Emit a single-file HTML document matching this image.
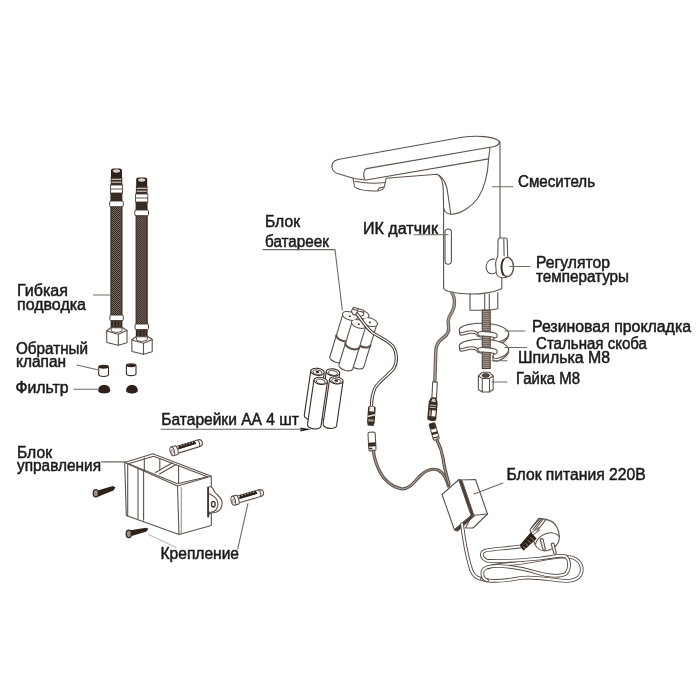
<!DOCTYPE html>
<html><head><meta charset="utf-8">
<style>
html,body{margin:0;padding:0;background:#fff;width:700px;height:700px;overflow:hidden}
svg{display:block}
text{font-family:"Liberation Sans",sans-serif;font-size:16px;fill:#1a1a1a;stroke:#1a1a1a;stroke-width:0.5}
.l{fill:none;stroke:#72685f;stroke-width:1.1;stroke-linecap:round;stroke-linejoin:round}
.k{fill:none;stroke:#5e524a;stroke-width:1.1;stroke-linecap:round;stroke-linejoin:round}
.w{fill:#fff;stroke:#5e524a;stroke-width:1.1;stroke-linejoin:round}
.d{fill:#2e2119}
</style></head>
<body>
<svg width="700" height="700" viewBox="0 0 700 700">
<defs>
<pattern id="thr" width="8" height="2" patternUnits="userSpaceOnUse">
<rect width="8" height="2" fill="#9a9089"/><rect width="8" height="0.8" fill="#6a5d54"/>
</pattern>
<pattern id="brd" width="2" height="2" patternUnits="userSpaceOnUse">
<rect width="2" height="2" fill="#74685f"/><rect width="1" height="1" fill="#3a2d25"/><rect x="1" y="1" width="1" height="1" fill="#3a2d25"/>
</pattern>
<g id="aa">
<path d="M-6.8 0V45A6.8 3.5 0 0 0 6.8 45V0" fill="#fff" stroke="#3b2e26" stroke-width="1.1"/>
<ellipse cx="0" cy="0" rx="6.8" ry="3.5" fill="#fff" stroke="#3b2e26" stroke-width="1.1"/>
<ellipse cx="0" cy="0.6" rx="4.6" ry="2.3" fill="#fff" stroke="#3b2e26" stroke-width="0.8"/>
</g>
</defs>
<!-- TEXT -->
<g id="txt" style="filter:grayscale(1)">
<text x="17" y="296.3" textLength="51" lengthAdjust="spacingAndGlyphs">Гибкая</text>
<text x="17" y="309.7" textLength="69" lengthAdjust="spacingAndGlyphs">подводка</text>
<text x="16" y="354.3" textLength="72" lengthAdjust="spacingAndGlyphs">Обратный</text>
<text x="16" y="366.7" textLength="50" lengthAdjust="spacingAndGlyphs">клапан</text>
<text x="15.5" y="392.7" textLength="53" lengthAdjust="spacingAndGlyphs">Фильтр</text>
<text x="518" y="187.0" textLength="77" lengthAdjust="spacingAndGlyphs">Смеситель</text>
<text x="363" y="233.8" textLength="75" lengthAdjust="spacingAndGlyphs">ИК датчик</text>
<text x="536" y="267.5" textLength="74" lengthAdjust="spacingAndGlyphs">Регулятор</text>
<text x="536" y="282.0" textLength="93" lengthAdjust="spacingAndGlyphs">температуры</text>
<text x="532" y="332.1" textLength="159" lengthAdjust="spacingAndGlyphs">Резиновая прокладка</text>
<text x="536" y="348.7" textLength="111" lengthAdjust="spacingAndGlyphs">Стальная скоба</text>
<text x="518" y="363.1" textLength="92" lengthAdjust="spacingAndGlyphs">Шпилька М8</text>
<text x="516" y="383.7" textLength="64" lengthAdjust="spacingAndGlyphs">Гайка М8</text>
<text x="265" y="227.2" textLength="35" lengthAdjust="spacingAndGlyphs">Блок</text>
<text x="265" y="247.3" textLength="64" lengthAdjust="spacingAndGlyphs">батареек</text>
<text x="161.3" y="425.0" textLength="137.5" lengthAdjust="spacingAndGlyphs">Батарейки АА 4 шт</text>
<text x="17" y="457.8" textLength="35" lengthAdjust="spacingAndGlyphs">Блок</text>
<text x="17" y="471.3" textLength="84" lengthAdjust="spacingAndGlyphs">управления</text>
<text x="160.5" y="559.0" textLength="78.5" lengthAdjust="spacingAndGlyphs">Крепление</text>
<text x="506.5" y="480.3" textLength="139.2" lengthAdjust="spacingAndGlyphs">Блок питания 220В</text>
</g>
<path d="M300.5 427.6L311 429.3L300.5 431.4Z" fill="#1a1a1a"/>
<!-- FAUCET -->
<g class="k">
<!-- top plate -->
<path d="M338 159.5L462 137.2C478 135 494 136.5 499.5 141.5C500 144.5 495 147 490 147.2L366.4 168.6C363.6 170 363 175 364.5 178.8"/>
<path d="M338 159.5C333 161 331.5 164 332 167.5C332.5 171 336 173.5 340 174.3L354 178.5L365.5 180"/>
<!-- front face bottom -->
<path d="M366 180L488.6 158.9"/>
<!-- underside -->
<path d="M386 178.3L437 174.3C441 176 443 182 443.3 190L443.6 210"/>
<path d="M438.6 175C444 178 447 185 448 195L450.7 213.5"/>
<path d="M443.6 208C444.5 212 447 214 450.7 214.3C462 214 472 206 478 198C485 187 488 172 488.6 159L490 147.2"/>
<!-- body -->
<path d="M500 142V238"/>
<path d="M443.6 208V288"/>
<path d="M501.8 277V288.5C495 292.5 480 294.3 469 294C458 293.5 449 292 446 290.5C444.5 289.8 443.6 289 443.6 287.5"/>
<!-- aerator -->
<path d="M353 178L354.5 186.5C357 190 366 191 378 191C382 190.5 384 189 384.5 186L386 179"/>
<path d="M355 181.2C365 183.5 378 183.5 385 182.5"/>
<path d="M378 190.5L379 188L383.5 187"/>
</g>
<!-- IR window -->
<rect x="445" y="229" width="6.4" height="35.2" rx="3.2" class="k"/>
<!-- lever + knob -->
<g class="k">
<path class="w" d="M494.8 259.3C491 258.5 487 261 486.2 265.5C485.5 270.5 488.5 274 492 273.8C494 273.7 495.5 273 496.3 272"/>
<path class="w" d="M498.1 239.5Q498.2 238 499.6 238H505.6Q507.1 238 507.2 239.6L507.7 256.5C509 258 511 260 512 262L510 275C507 277.5 504 278 502 277.7C499 277.3 496.8 275.5 496.3 273L495.6 263.5C495.5 260.5 497.6 258 497.8 255.5Z"/>
<path d="M503.8 238.8L504.1 255.6"/>
<ellipse cx="507.4" cy="267" rx="6.1" ry="9.6" class="w" style="stroke-width:1.4"/>
<path d="M503.5 259.5C501 262.5 500.8 271 503.2 274.8" style="stroke-width:1.8;stroke:#3b2e26"/>
</g>
<!-- washers -->
<g id="wsh">
<path class="w" d="M459.5 329C462 324.5 474 323 484 323.3C497 323.7 507 327.5 508.6 333C509 337.5 505 340.5 497 342.5L494.5 342.3C492.5 341.3 492.5 339.5 494.5 338C496 336.5 495 334.8 490.5 334.8H482C479 334.8 477.3 333.5 476.5 332C474 330.5 468 330.6 462 332.8C459.5 332.8 459 331 459.5 329Z"/>
<path class="k" d="M459.5 331V333.5C460 335.5 462 335.5 464 334.8C469 333 474 333 476.5 334.5L478 336.5L482 337.3"/>
<path class="k" d="M508.6 333V336C507 341 502 343.5 497 345.2L494.5 345"/>
<path class="k" d="M492.8 340V342.5C493 344 494 345 494.5 345"/>
</g>
<use href="#wsh" transform="translate(0,16)"/>
<!-- stud -->
<rect x="482.2" y="310" width="8" height="58.6" fill="url(#thr)" stroke="#3b2e26" stroke-width="0.9"/>
<g id="wfr"><path class="w" d="M478 332C480 331.3 490 331.3 495 333C497.5 334 498 336.5 496 337.8L494 337.8C492 336.3 486 335.8 480 336C478 335.5 477.5 333 478 332Z"/></g>
<use href="#wfr" transform="translate(0,16)"/>
<!-- nut -->
<g class="k">
<path class="w" d="M478.4 376L482.3 372.3H489.3L493.2 376V389.5L489.3 392H482.3L478.4 389.5Z"/>
<path d="M478.4 376L482.3 378.4H489.5L493.2 376M482.3 378.4V392M489.5 378.4V392"/>
<ellipse cx="485.8" cy="375.4" rx="3.6" ry="1.9" fill="#5a4a40" stroke="#3b2e26" stroke-width="0.8"/>
</g>
<!-- HOSES -->
<g id="hose1">
<rect x="110.9" y="206" width="11.1" height="109.5" fill="url(#brd)" stroke="#2e2119" stroke-width="1"/>
<path d="M111 177V170.5C111 168.5 114 168.6 116.5 168.6C119 168.6 122 168.5 122 170.5V177Z" fill="#2e2119"/>
<ellipse cx="116.5" cy="171" rx="3.6" ry="1.7" fill="#d8d0c8"/>
<rect x="110.7" y="177" width="11.6" height="8" fill="#3a2c23"/>
<path d="M111.5 179.3H121.5M111.5 182.2H121.5" stroke="#e8e2dc" stroke-width="1"/>
<rect x="110.4" y="185" width="12.2" height="8" fill="#fff" stroke="#3b2e26" stroke-width="0.8"/>
<path d="M110.4 189H122.6" stroke="#3b2e26" stroke-width="0.8"/>
<rect x="110.4" y="193" width="12" height="8" fill="#3a2c23"/>
<rect x="109.6" y="201" width="13.7" height="5.7" rx="1.2" fill="#fff" stroke="#3b2e26" stroke-width="0.9"/>
<rect x="109.9" y="315" width="13.4" height="5.6" rx="1.2" fill="#fff" stroke="#3b2e26" stroke-width="0.9"/>
<rect x="110.6" y="320.6" width="11.8" height="7.4" fill="#3a2c23"/>
<path class="w" d="M106.6 331L110.5 327.8L122.5 327.5L127 330.5V342.8L118.3 345.3L106.8 342.5Z"/>
<path class="k" d="M106.6 331L118.3 334.3L127 330.5M118.3 334.3V345.3"/>
<path d="M111 327.8H122.3L121.8 331.2C118 332.8 114 332.8 111.5 331.2Z" fill="#fff" stroke="#3b2e26" stroke-width="0.8"/>
<path d="M113.5 321V327.8M117 321V327.8M120 321V327.8" stroke="#6a5e56" stroke-width="0.7"/>
</g>
<use href="#hose1" transform="translate(25.2,9)"/>
<!-- valves & filters -->
<g>
<path class="w" d="M98.7 367V374.6A4.9 1.9 0 0 0 108.5 374.6V367A4.9 1.7 0 0 0 98.7 367Z" style="stroke:#3b2e26"/>
<ellipse cx="103.6" cy="367" rx="4.8" ry="1.7" fill="#2e2119"/>
<path class="w" d="M126.4 365.6V373.7A4.8 1.9 0 0 0 136 373.7V365.6A4.8 1.7 0 0 0 126.4 365.6Z" style="stroke:#3b2e26"/>
<ellipse cx="131.2" cy="365.6" rx="4.7" ry="1.7" fill="#2e2119"/>
<path d="M98.2 390.5C98.2 386.5 101 384.9 104.2 384.9C107.4 384.9 110.2 386.5 110.2 390.5C110.2 392.6 107.5 393.4 104.2 393.4C100.9 393.4 98.2 392.6 98.2 390.5Z" fill="#2e2119"/>
<path d="M126.1 390.6C126.1 386.6 129 384.9 131.9 384.9C134.9 384.9 137.8 386.6 137.8 390.6C137.8 392.7 135 393.6 131.9 393.6C128.8 393.6 126.1 392.7 126.1 390.6Z" fill="#2e2119"/>
</g>
<!-- AA BATTERIES -->
<g id="aaset">
<g transform="translate(317.5,371.8) rotate(8.3)"><use href="#aa"/><ellipse cx="0" cy="0.3" rx="1.8" ry="1.1" fill="#2e2119"/></g>
<g transform="translate(333,372.3) rotate(8.3)"><use href="#aa"/></g>
<g transform="translate(320.7,380.9) rotate(8.3)"><use href="#aa"/></g>
<g transform="translate(336.3,380.4) rotate(8.3)"><use href="#aa"/><ellipse cx="0" cy="0.3" rx="1.8" ry="1.1" fill="#2e2119"/></g>
</g>
<!-- BATTERY PACK -->
<g transform="translate(353,340) rotate(17)" class="k">
<path class="w" d="M-6.75 -27.10V17.80A7.25 3.5 0 0 0 7.75 17.80V-27.10Z"/>
<path d="M-6.75 -4.65A7.25 3.5 0 0 0 7.75 -4.65" style="stroke-width:2.2"/>
<path class="w" d="M-17.25 -22.10V22.80A7.25 3.5 0 0 0 -2.75 22.80V-22.10Z"/>
<path d="M-17.25 0.35A7.25 3.5 0 0 0 -2.75 0.35" style="stroke-width:2.2"/>
<path class="w" d="M3.75 -22.10V22.80A7.25 3.5 0 0 0 18.25 22.80V-22.10Z"/>
<path d="M3.75 0.35A7.25 3.5 0 0 0 18.25 0.35" style="stroke-width:2.2"/>
<path class="w" d="M-6.25 -17.10V27.80A7.25 3.5 0 0 0 8.25 27.80V-17.10Z"/>
<path d="M-6.25 5.35A7.25 3.5 0 0 0 8.25 5.35" style="stroke-width:2.2"/>
<ellipse cx="0.5" cy="-27.1" rx="7.25" ry="3.5" style="stroke-width:2.1"/>
<ellipse cx="-10" cy="-22.1" rx="7.25" ry="3.5" style="stroke-width:2.1"/>
<ellipse cx="11" cy="-22.1" rx="7.25" ry="3.5" style="stroke-width:2.1"/>
<ellipse cx="1.0" cy="-17.1" rx="7.25" ry="3.5" style="stroke-width:2.1"/>
<ellipse cx="0.5" cy="-27.1" rx="7.25" ry="3.5" fill="#fff" stroke="none"/>
<ellipse cx="-10" cy="-22.1" rx="7.25" ry="3.5" fill="#fff" stroke="none"/>
<ellipse cx="11" cy="-22.1" rx="7.25" ry="3.5" fill="#fff" stroke="none"/>
<ellipse cx="1.0" cy="-17.1" rx="7.25" ry="3.5" fill="#fff" stroke="none"/>
<ellipse cx="-10" cy="-21.8" rx="1.1" ry="0.8" fill="#3b2e26" stroke="none"/>
<ellipse cx="11" cy="-21.8" rx="1.1" ry="0.8" fill="#3b2e26" stroke="none"/>
<ellipse cx="1.0" cy="-16.8" rx="1.1" ry="0.8" fill="#3b2e26" stroke="none"/>
<path class="w" d="M-10 -27L-9 -31.5H1.5L3 -27L0 -24.5H-7.5Z"/>
<path d="M-9.5 -29.5H2M-4 -31.5V-25"/>
</g>
<!-- battery cable -->
<path d="M357 314C362 320 366 328 373 333C379 337 388 340 393.5 347C397 353 397.5 362 394 368C389 375 380 380 375 388C372.5 394 371.5 400 371.5 406" fill="none" stroke="#3b2e26" stroke-width="3.2" stroke-linecap="round"/>
<path d="M357 314C362 320 366 328 373 333C379 337 388 340 393.5 347C397 353 397.5 362 394 368C389 375 380 380 375 388C372.5 394 371.5 400 371.5 406" fill="none" stroke="#fff" stroke-width="1.3" stroke-linecap="round"/>
<!-- battery connector male -->
<g transform="translate(371.3,416) rotate(4)">
<path d="M-3.8 -8.5C-3.8 -10.5 3.8 -10.5 3.8 -8.5V6.5L2.8 9.8H-2.8L-3.8 6.5Z" fill="#3a2c23"/>
<path d="M-2.2 -8.6C-2 -9.8 2 -9.8 2.2 -8.6L2.4 -4.5H-2.4Z" fill="#ece6e0"/>
<path d="M-3.8 0L3.8 -2.2V-0.8L-3.8 1.4Z" fill="#ece6e0"/>
<rect x="-2.8" y="3.2" width="5.6" height="2.4" fill="#9a918a"/>
</g>
<!-- battery connector female -->
<g transform="translate(372,441.5) rotate(-3)">
<rect x="-3.6" y="-9.3" width="7.2" height="18.6" rx="1.5" class="w"/>
<rect x="-3.6" y="1" width="7.2" height="4" fill="#3a2c23"/>
<path d="M-3 7H0" stroke="#3a2c23" stroke-width="1.6"/>
</g>
<!-- sensor cable from faucet -->
<path d="M452 293C455 297 455.5 305 452.5 311C449.5 316 447 320 448.5 326C449.5 331 447.5 335 443 338C438.5 341 436.3 344 435.9 350C435.5 358 435.2 370 434.8 382" fill="none" stroke="#6a5e56" stroke-width="3.4" stroke-linecap="round"/>
<path d="M452 293C455 297 455.5 305 452.5 311C449.5 316 447 320 448.5 326C449.5 331 447.5 335 443 338C438.5 341 436.3 344 435.9 350C435.5 358 435.2 370 434.8 382" fill="none" stroke="#aaa199" stroke-width="1.4" stroke-linecap="round"/>
<g transform="translate(434.6,390) rotate(3)">
<rect x="-2.3" y="-8" width="4.6" height="16" class="w"/>
</g>
<g transform="translate(432.6,409.3) rotate(5)">
<path d="M-2.8 -11.5H2.8L4.5 -7V9.5C4.5 11 3 11.8 0 11.8C-3 11.8 -4.5 11 -4.5 9.5V-7Z" fill="#3a2c23"/>
<path d="M-1.2 -10.5H1.5L2.5 -7.5H-2Z" fill="#d0c8c0"/>
<rect x="-3" y="-4.5" width="6" height="1" fill="#c8c0b8"/>
<rect x="-3" y="-2.2" width="6" height="0.9" fill="#c8c0b8"/>
<rect x="-0.5" y="1" width="3.8" height="6" fill="#fff"/>
<rect x="-3.2" y="1" width="1.8" height="6" fill="#a0968e"/>
</g>
<g transform="translate(434.2,431.5) rotate(-16)">
<rect x="-3" y="-8.5" width="6" height="17" rx="1.2" class="w"/>
<rect x="-3" y="-8.5" width="6" height="6" rx="1.5" fill="#3a2c23"/>
<rect x="-3" y="0.5" width="6" height="2.5" fill="#3a2c23"/>
<rect x="-3" y="5.5" width="6" height="1.2" fill="#3a2c23"/>
</g>
<!-- cables to PSU -->
<path d="M373.5 451C374 458 377 466 380 472C384 480 392 487 402 489C410 489 414 482 420 476C426 470 432 468 438 470C444 473 447 480 448.5 486" fill="none" stroke="#5a4e46" stroke-width="3.2" stroke-linecap="round"/>
<path d="M373.5 451C374 458 377 466 380 472C384 480 392 487 402 489C410 489 414 482 420 476C426 470 432 468 438 470C444 473 447 480 448.5 486" fill="none" stroke="#a39a92" stroke-width="1.2" stroke-linecap="round"/>
<path d="M437 440C440 446 442 452 443 458C444 466 446 474 449 484" fill="none" stroke="#5a4e46" stroke-width="3.2" stroke-linecap="round"/>
<path d="M437 440C440 446 442 452 443 458C444 466 446 474 449 484" fill="none" stroke="#a39a92" stroke-width="1.2" stroke-linecap="round"/>
<!-- PSU -->
<g class="k">
<path class="w" d="M460 480L475.5 479.5L487.5 514L473 528L465.5 528L472 515.5Z"/>
<path d="M472 515.5L487.5 514"/>
<path class="w" d="M442 494.5L459 479.5L471.5 515.5L454.5 530Z"/>
<path d="M459 479.5L462 480.5L474.2 516.2L471.5 515.5Z" fill="#4a3d35" style="stroke-width:1"/>
<path d="M454.5 530L457.5 531.2L474.2 516.2L471.5 515.5Z" fill="#4a3d35" style="stroke-width:1"/>
</g>
<!-- plug cable loops -->
<g fill="none" stroke-linecap="round" stroke-linejoin="round">
<path d="M462 524C464 540 467 556 470 566C472 574 475 578 482 579" stroke="#54483f" stroke-width="3.7"/>
<path d="M462 524C464 540 467 556 470 566C472 574 475 578 482 579" stroke="#fff" stroke-width="1.9"/>
<path d="M482 579C490 582 505 581 520 578C535 576 550 580 566 581C578 581 583 575 581.5 567C580 560 573 556.5 564 556.5C549 557 532 562 515 563.5C503 564.5 493 565 488 567.5" stroke="#54483f" stroke-width="3.7"/>
<path d="M482 579C490 582 505 581 520 578C535 576 550 580 566 581C578 581 583 575 581.5 567C580 560 573 556.5 564 556.5C549 557 532 562 515 563.5C503 564.5 493 565 488 567.5" stroke="#fff" stroke-width="1.9"/>
<path d="M521.4 546.3C505 548.5 492 549 485 550.6C480.5 552.5 480.5 558 487 560.7C500 561.5 525 560 540 558.5C552 557 560 555 565 556C570 559 570.5 568 566 573.6C560 577 548 576 538 573C525 569 510 566 497 566C488 566 483 568 482.5 572C482 576 483.5 579 487 580.5" stroke="#54483f" stroke-width="3.7"/>
<path d="M521.4 546.3C505 548.5 492 549 485 550.6C480.5 552.5 480.5 558 487 560.7C500 561.5 525 560 540 558.5C552 557 560 555 565 556C570 559 570.5 568 566 573.6C560 577 548 576 538 573C525 569 510 566 497 566C488 566 483 568 482.5 572C482 576 483.5 579 487 580.5" stroke="#fff" stroke-width="1.9"/>
</g>
<!-- plug -->
<g class="k">
<path class="w" d="M530 529.5L539 518.2L546 519.4C551.5 520.5 555.5 523.5 557.3 528C559.3 533 560 538.5 558.5 542C556.5 546 552 550 546 550.8C540.5 551.3 536.5 548 535 544.5Z"/>
<path d="M535.5 544C537.5 537 545 532.5 551 532.7C555 533 557.5 534.5 559 536.5"/>
<path d="M537 531L546 519.4"/>
<path d="M531.5 528L540 518.6M533 529.5L541.5 518.8M534.5 530.5L543 519"/>
<path d="M531 533L539 527.5M532.5 535L540 530" style="stroke-width:0.9"/>
<path d="M520.3 545.3L530.8 533.2L536 538.6L523.6 549.8Z" fill="#2e2119" stroke="#2e2119"/>
<path d="M523 546.5L526 549M525.5 543.5L528.8 546.5M528 540.5L531.5 543.5M530.5 537.5L534 540.5" stroke="#b5aca5" stroke-width="0.7"/>
<path class="w" d="M540.2 539.5C540.5 538.5 542.5 538.2 543 539.2L545.3 549C545.2 550 543.5 550.4 543 549.5Z"/>
<path class="w" d="M551.2 544C551.5 543 553.5 542.7 554 543.7L556.3 553.3C556.2 554.3 554.5 554.7 554 553.8Z"/>
</g>
<!-- CONTROL BOX -->
<g class="k">
<path class="w" d="M124.7 462.5L152.9 453.8L211.3 476.3V525.5L179 534.5L126.3 515.4Z"/>
<path d="M124.7 462.5L177.5 486L211.3 476.3M177.5 486L179 534.5"/>
<path d="M128.5 463.8L153.5 456.2L207.5 476.8L177.5 483.8L128.5 463.8"/>
<path d="M155.5 472.5L172 463M159.5 474L176 464.5"/>
<path d="M144.3 458V471M159.8 458.5V470M178.6 465.8V483"/>
<path d="M127.7 463.5V516.2M138 468V518.5M143.6 470.5V520.3"/>
<path d="M181.3 487.5V534.5" style="stroke:#9a918a"/>
</g>
<g class="k">
<path class="w" d="M208.1 487.6C209.5 486.5 211.5 486.5 212.5 488C213.5 491 215.5 493.5 218.5 496C221.5 498.5 222.5 502 222 505C221.5 508.5 219.5 511 216 512.3C213.5 513 211 513 209.5 513.5L208.1 516.7Z"/>
<path d="M208.6 493.5C212 495 215.5 497 217 500C218.5 503.5 218 507 216 510C214 512 211 512.5 209 512.5"/>
<path d="M208.1 487.4V516.7" style="stroke-width:1.6;stroke:#3b2e26"/>
<ellipse cx="213.3" cy="504.2" rx="1.8" ry="2.8" style="stroke-width:1.3;stroke:#3b2e26"/>
</g>
<!-- screws -->
<g>
<path d="M97.5 490.4L112.8 486L115.5 487.3L113.5 490.6L97.8 496.8Z" fill="#2e2119"/>
<ellipse cx="95.8" cy="493.2" rx="2.6" ry="3.7" fill="#9a8f86" stroke="#2e2119" stroke-width="1.2"/>
<path d="M130.5 530.2L146 527.8L148.5 528.8L146.5 531.4L130.8 536.2Z" fill="#2e2119"/>
<ellipse cx="128.8" cy="533.9" rx="2.6" ry="3.7" fill="#9a8f86" stroke="#2e2119" stroke-width="1.2"/>
</g>
<!-- anchors -->
<g transform="translate(172.3,451.3) rotate(-17)">
<path class="w" d="M3.5 -3.5H27.5C30.5 -3.5 31.3 -1.5 31.3 0C31.3 1.5 30.5 3.5 27.5 3.5H3.5Z"/>
<path class="k" d="M27.3 -3.3C28.8 -2 28.8 2 27.3 3.3"/>
<path d="M7 -0.6L8.5 -3L10 -0.6L11.5 -3L13 -0.6L14.5 -3L16 -0.6L17.5 -3L19 -0.6L20.5 -3L22 -0.6L23.5 -3L24.5 -0.8Z" fill="#2e2119" stroke="#2e2119" stroke-width="1.4" stroke-linejoin="round"/>
<path class="w" d="M0 -4.6H4C5.2 -4.6 5.6 -2.5 5.6 0C5.6 2.5 5.2 4.6 4 4.6H0Z"/>
<ellipse cx="0" cy="0" rx="2.1" ry="4.6" class="w"/>
<ellipse cx="0" cy="0.2" rx="1" ry="2" fill="none" stroke="#8a7e76" stroke-width="0.8"/>
</g>
<g transform="translate(233.3,500.8) rotate(-16)">
<path class="w" d="M3.5 -3.5H27.5C30.5 -3.5 31.3 -1.5 31.3 0C31.3 1.5 30.5 3.5 27.5 3.5H3.5Z"/>
<path class="k" d="M27.3 -3.3C28.8 -2 28.8 2 27.3 3.3"/>
<path d="M7 -0.6L8.5 -3L10 -0.6L11.5 -3L13 -0.6L14.5 -3L16 -0.6L17.5 -3L19 -0.6L20.5 -3L22 -0.6L23.5 -3L24.5 -0.8Z" fill="#2e2119" stroke="#2e2119" stroke-width="1.4" stroke-linejoin="round"/>
<path class="w" d="M0 -4.6H4C5.2 -4.6 5.6 -2.5 5.6 0C5.6 2.5 5.2 4.6 4 4.6H0Z"/>
<ellipse cx="0" cy="0" rx="2.1" ry="4.6" class="w"/>
<ellipse cx="0" cy="0.2" rx="1" ry="2" fill="none" stroke="#8a7e76" stroke-width="0.8"/>
</g>
<!-- base -->
<g class="k">
<path d="M470 293.5V310.3H489.3L497.8 308.8V292.5"/>
<path d="M484.7 294.3V310.3M489.3 294V310.3"/>
</g>
<!-- LEADERS -->
<g class="l">
<path d="M93.5 295H110"/>
<path d="M77 365L98.5 370"/>
<path d="M74 389.3H98"/>
<path d="M492.5 186.8H513"/>
<path d="M414 234.7H448"/>
<path d="M509.6 266.5H530"/>
<path d="M505 331H525"/>
<path d="M505 347.5H526.5"/>
<path d="M492 360.7H507"/>
<path d="M492 382H507"/>
<path d="M263 249.6H335L342.3 310"/>
<path d="M161 429.3H303"/>
<path d="M101.7 461.9H126.6"/>
<path d="M148.6 534.4L176 547.5" style="stroke:#bbb"/>
<path d="M247.9 503.7L237.7 549.2"/>
<path d="M474 494L503 483"/>
</g>
</svg>
</body></html>
